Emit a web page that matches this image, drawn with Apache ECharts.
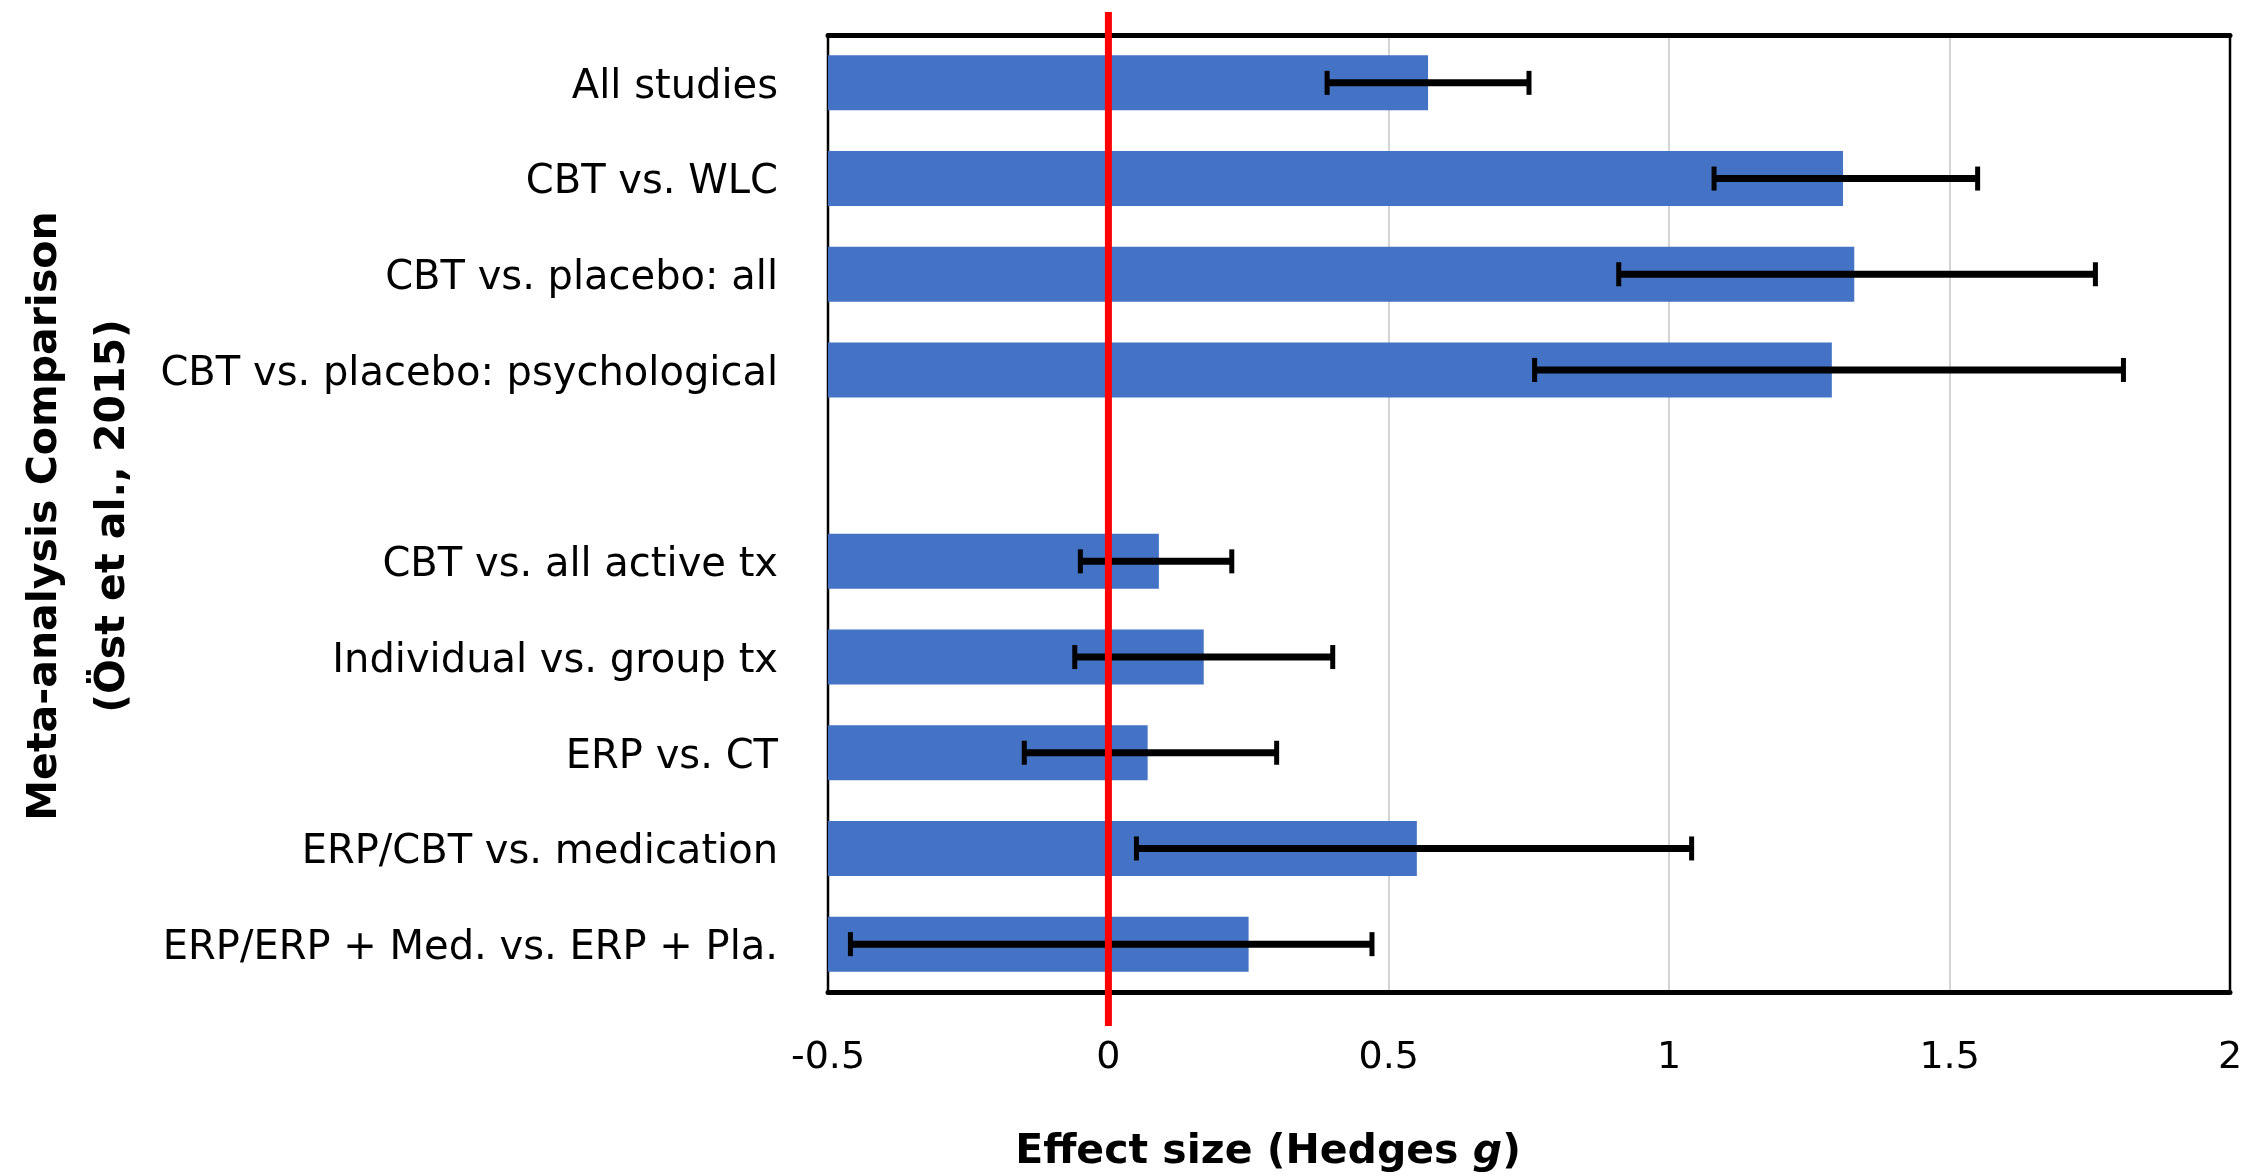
<!DOCTYPE html>
<html>
<head>
<meta charset="utf-8">
<style>
  html, body { margin: 0; padding: 0; background: #fff; }
  #chart { width: 2246px; height: 1176px; }
</style>
<script src="https://cdn.jsdelivr.net/npm/echarts@6/dist/echarts.min.js"></script>
</head>
<body>
<div id="chart"></div>
<script>
// ---- Data ----
var categories = [
  'All studies',
  'CBT vs. WLC',
  'CBT vs. placebo: all',
  'CBT vs. placebo: psychological',
  '',
  'CBT vs. all active tx',
  'Individual vs. group tx',
  'ERP vs. CT',
  'ERP/CBT vs. medication',
  'ERP/ERP + Med. vs. ERP + Pla.'
];
var effectSize = [0.57, 1.31, 1.33, 1.29, null, 0.09, 0.17, 0.07, 0.55, 0.25];
var ciLow      = [0.39, 1.08, 0.91, 0.76, null, -0.05, -0.06, -0.15, 0.05, -0.46];
var ciHigh     = [0.75, 1.55, 1.76, 1.81, null, 0.22, 0.40, 0.30, 1.04, 0.47];
var xTicks = { min: -0.5, max: 2, interval: 0.5 };
var referenceValue = 0;

// ---- Build series data ----
var barData = [];
var errData = [];
for (var i = 0; i < categories.length; i++) {
  if (effectSize[i] !== null) barData.push([effectSize[i], i]);
  if (ciLow[i] !== null) errData.push([ciLow[i], ciHigh[i], i]);
}

var FONT = 'DejaVu Sans';
var chart = echarts.init(document.getElementById('chart'), null, { renderer: 'canvas' });

var option = {
  backgroundColor: '#ffffff',
  animation: false,
  grid: {
    left: 828, right: 16, top: 35, bottom: 184,
    show: true, borderColor: '#000', borderWidth: 2.5, backgroundColor: 'transparent'
  },
  xAxis: [{
    type: 'value',
    position: 'bottom',
    min: xTicks.min, max: xTicks.max, interval: xTicks.interval,
    axisLine: { show: true, onZero: false, lineStyle: { color: '#000', width: 5 } },
    axisTick: { show: false },
    splitLine: { show: true, showMinLine: false, showMaxLine: false, lineStyle: { color: '#d4d4d4', width: 2 } },
    axisLabel: { color: '#000', fontFamily: FONT, fontSize: 38, margin: 47 }
  }, {
    type: 'value',
    position: 'top',
    min: xTicks.min, max: xTicks.max, interval: xTicks.interval,
    axisLine: { show: true, onZero: false, lineStyle: { color: '#000', width: 5 } },
    axisTick: { show: false },
    splitLine: { show: false },
    axisLabel: { show: false }
  }],
  yAxis: {
    type: 'category',
    data: categories,
    inverse: true,
    axisLine: { show: false },
    axisTick: { show: false },
    splitLine: { show: false },
    axisLabel: {
      margin: 50,
      formatter: function (v) { return v ? '{l|' + v + '}' : ''; },
      rich: {
        l: { color: '#000', fontFamily: FONT, fontSize: 40, padding: [9, 0, 0, 0] }
      }
    }
  },
  series: [{
    type: 'custom',
    name: 'Effect size',
    xAxisIndex: 0,
    data: barData,
    encode: { x: 0, y: 1 },
    z: 3,
    renderItem: function (params, api) {
      var y = api.value(1);
      var start = api.coord([xTicks.min, y]);
      var end = api.coord([api.value(0), y]);
      var h = api.size([0, 1])[1] * 0.575;
      return {
        type: 'rect',
        shape: { x: start[0], y: start[1] - h / 2, width: end[0] - start[0], height: h },
        style: { fill: '#4472C4' }
      };
    }
  }, {
    type: 'custom',
    name: 'CI',
    xAxisIndex: 0,
    data: errData,
    encode: { x: [0, 1], y: 2 },
    z: 4,
    renderItem: function (params, api) {
      var y = api.value(2);
      var p1 = api.coord([api.value(0), y]);
      var p2 = api.coord([api.value(1), y]);
      var capH = 24;
      var st = { stroke: '#000', lineWidth: 7 };
      return {
        type: 'group',
        children: [
          { type: 'line', shape: { x1: p1[0], y1: p1[1], x2: p2[0], y2: p2[1] }, style: st },
          { type: 'line', shape: { x1: p1[0], y1: p1[1] - capH / 2, x2: p1[0], y2: p1[1] + capH / 2 }, style: { stroke: '#000', lineWidth: 5 } },
          { type: 'line', shape: { x1: p2[0], y1: p2[1] - capH / 2, x2: p2[0], y2: p2[1] + capH / 2 }, style: { stroke: '#000', lineWidth: 5 } }
        ]
      };
    }
  }, {
    type: 'custom',
    name: 'Reference',
    xAxisIndex: 0,
    data: [[referenceValue, 0]],
    encode: { x: 0, y: 1 },
    clip: false,
    z: 10,
    renderItem: function (params, api) {
      var x = api.coord([api.value(0), 0])[0];
      var cs = params.coordSys;
      return {
        type: 'line',
        shape: { x1: x, y1: cs.y - 23, x2: x, y2: cs.y + cs.height + 34 },
        style: { stroke: '#ff0000', lineWidth: 7 }
      };
    }
  }],
  graphic: [{
    type: 'text',
    x: 1268, y: 1152,
    style: {
      text: '{b|Effect size (Hedges }{bi|g}{b|)}',
      align: 'center',
      verticalAlign: 'middle',
      rich: {
        b: { fontFamily: FONT, fontSize: 41, fontWeight: 'bold', fill: '#000' },
        bi: { fontFamily: FONT, fontSize: 41, fontWeight: 'bold', fontStyle: 'italic', fill: '#000' }
      }
    }
  }, {
    type: 'text',
    x: 79, y: 516,
    rotation: Math.PI / 2,
    style: {
      text: 'Meta-analysis Comparison\n(Öst et al., 2015)',
      font: 'bold 41px "DejaVu Sans"',
      fill: '#000',
      align: 'center',
      verticalAlign: 'middle',
      lineHeight: 68
    }
  }]
};
chart.setOption(option);
</script>
</body>
</html>
